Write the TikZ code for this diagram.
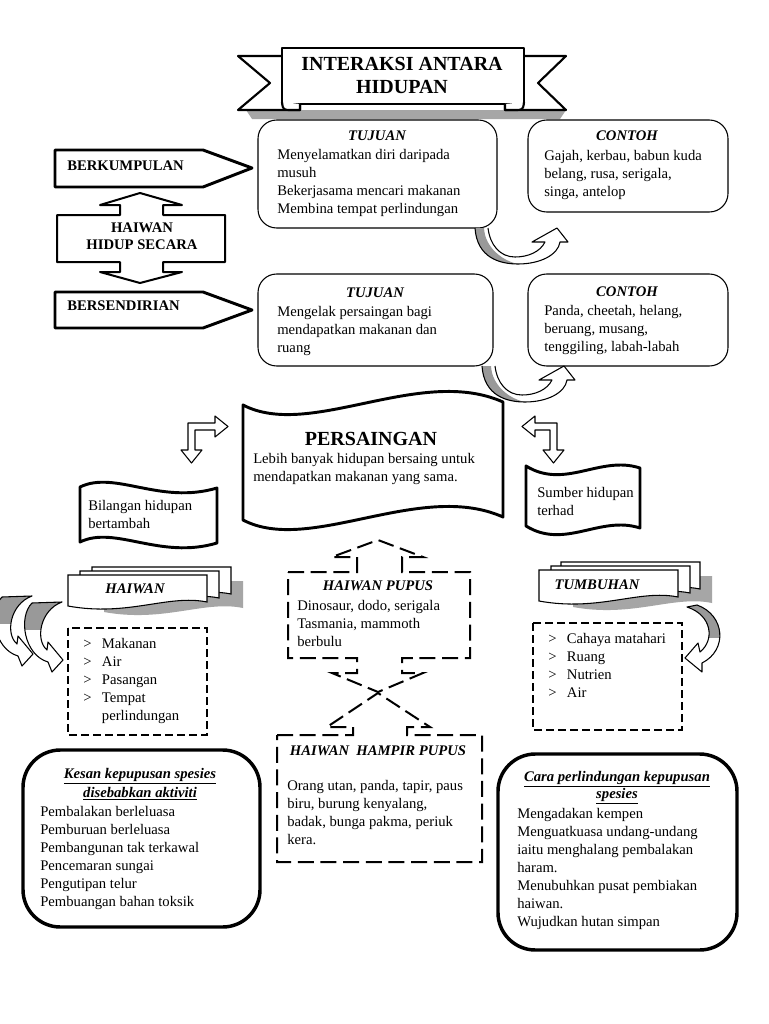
\documentclass[tikz,border=0pt]{standalone}
\usepackage{fontspec}
\setmainfont{Liberation Serif}
\begin{document}
\begin{tikzpicture}[x=0.75pt,y=-0.75pt,
  every node/.style={inner sep=0pt},
  body/.style={font=\fontsize{11}{13.5}\selectfont, align=left, anchor=north west, execute at begin node=\strut},
  hd/.style={font=\fontsize{11}{13.5}\selectfont\bfseries\itshape, anchor=base},
  bd/.style={font=\fontsize{11}{13.5}\selectfont\bfseries, anchor=base west},
  outl/.style={draw=black, line width=0.8pt, fill=white, line join=round},
  heavy/.style={draw=black, line width=2.2pt, fill=white, line join=round},
  dshS/.style={draw=black, line width=1.4pt, dash pattern=on 6pt off 3pt},
  dshL/.style={draw=black, line width=1.5pt, dash pattern=on 12pt off 5pt},
  bigbox/.style={draw=black, line width=2.6pt, fill=white, rounded corners=28},
  docu/.pic={\draw[line width=0.8pt, fill=white] (0,0) -- (139,0) -- (139,27) .. controls (100,19) and (60,42) .. (0,31) -- cycle;},
  docsh/.pic={\fill[black!35] (0,0) -- (139,0) -- (139,27) .. controls (100,19) and (60,42) .. (0,31) -- cycle;},
  uparr/.pic={
    \fill[white] (0,0) .. controls (2,30) and (25,36) .. (43,36) .. controls (65,36) and (83,27) .. (85,14) -- (93,14) -- (82,0) -- (57,14) -- (70,14) .. controls (65,24) and (53,29) .. (40,29) .. controls (25,29) and (15,17) .. (13,0) -- cycle;
    \fill[black!40] (0,0) .. controls (2,30) and (25,36) .. (43,36) .. controls (28,33) and (10,20) .. (9,0) -- cycle;
    \draw[line width=0.8pt, line join=round] (0,0) .. controls (2,30) and (25,36) .. (43,36) .. controls (65,36) and (83,27) .. (85,14) -- (93,14) -- (82,0) -- (57,14) -- (70,14) .. controls (65,24) and (53,29) .. (40,29) .. controls (25,29) and (15,17) .. (13,0);
  },
  rtarr/.pic={
    \fill[white] (0,0) -- (30,-1) .. controls (8,7) and (3,37) .. (15,47) -- (16,39) -- (31,57) -- (20,69) -- (16,59) .. controls (-8,52) and (-14,14) .. (0,0) -- cycle;
    \begin{scope}
      \clip (-30,-5) rectangle (40,26);
      \fill[black!40] (0,0) -- (30,-1) .. controls (8,7) and (3,37) .. (15,47) -- (16,39) -- (31,57) -- (20,69) -- (16,59) .. controls (-8,52) and (-14,14) .. (0,0) -- cycle;
    \end{scope}
    \draw[line width=0.8pt, line join=round] (0,0) -- (30,-1) .. controls (8,7) and (3,37) .. (15,47) -- (16,39) -- (31,57) -- (20,69) -- (16,59) .. controls (-8,52) and (-14,14) .. (0,0) -- cycle;
  },
  ltarr/.pic={
    \fill[white] (0,0) -- (10,-2) .. controls (38,8) and (41,43) .. (15,56) -- (15,65) -- (-2,51) -- (11,36) -- (13,45) .. controls (28,33) and (25,8) .. (0,0) -- cycle;
    \begin{scope}
      \clip (-10,-5) rectangle (50,30);
      \fill[black!40] (0,0) -- (10,-2) .. controls (38,8) and (41,43) .. (15,56) -- (15,65) -- (-2,51) -- (11,36) -- (13,45) .. controls (28,33) and (25,8) .. (0,0) -- cycle;
    \end{scope}
    \draw[line width=0.8pt, line join=round] (0,0) -- (10,-2) .. controls (38,8) and (41,43) .. (15,56) -- (15,65) -- (-2,51) -- (11,36) -- (13,45) .. controls (28,33) and (25,8) .. (0,0) -- cycle;
  }
]
\useasboundingbox (0,0) rectangle (768,1024);
\fill[white] (0,0) rectangle (768,1024);

% ---------- title ribbon ----------
\fill[black!35] (246,110) -- (566,110) -- (560,119) -- (252,119) -- cycle;
\draw[outl, line width=1.6pt] (300,56) -- (238,56) -- (270,83) -- (238,110) -- (300,110) -- cycle;
\draw[outl, line width=1.6pt] (505,56) -- (566,56) -- (538,83) -- (566,110) -- (505,110) -- cycle;
\draw[outl, line width=1.8pt] (282,48) rectangle (524,104);
\draw[outl, line width=1.6pt] (282,102) .. controls (283,110) .. (292,110) -- (300,110) -- (300,104);
\draw[outl, line width=1.6pt] (524,102) .. controls (523,110) .. (514,110) -- (505,110) -- (505,104);
\node[font=\fontsize{15}{17.25}\selectfont\bfseries, align=center, anchor=north, execute at begin node=\strut] (title) at (402,57) {INTERAKSI ANTARA\\HIDUPAN};

% ---------- left arrows ----------
\draw[heavy] (55,150) -- (203,150) -- (252,168) -- (203,187) -- (55,187) -- cycle;
\node[bd] (berk) at (67,170) {BERKUMPULAN};
\draw[heavy] (55,292) -- (203,292) -- (252,310) -- (203,328) -- (55,328) -- cycle;
\node[bd] (bers) at (67,310) {BERSENDIRIAN};
\draw[outl, line width=1.5pt] (57,215) -- (120,215) -- (120,205) -- (100,205) -- (140,193) -- (182,205) -- (163,205) -- (163,215) -- (225,215) -- (225,262) -- (163,262) -- (163,272) -- (182,272) -- (140,283) -- (100,272) -- (120,272) -- (120,262) -- (57,262) -- cycle;
\node[font=\fontsize{11}{12.75}\selectfont\bfseries, align=center, anchor=north, execute at begin node=\strut] (hidup) at (142,223) {HAIWAN\\HIDUP SECARA};

% ---------- tujuan / contoh ----------
\draw[outl, rounded corners=14] (258,120) rectangle (497,228);
\node[hd] (tuj1) at (377,140) {TUJUAN};
\node[body] (tuj1t) at (277,149.4) {Menyelamatkan diri daripada\\musuh\\Bekerjasama mencari makanan\\Membina tempat perlindungan};
\draw[outl, rounded corners=14] (528,120) rectangle (728,212);
\node[hd] (con1) at (627,140) {CONTOH};
\node[body] (con1t) at (544,150.4) {Gajah, kerbau, babun kuda\\belang, rusa, serigala,\\singa, antelop};
\draw[outl, rounded corners=14] (258,274) rectangle (493,366);
\node[hd] (tuj2) at (375,297) {TUJUAN};
\node[body] (tuj2t) at (277,306.4) {Mengelak persaingan bagi\\mendapatkan makanan dan\\ruang};
\draw[outl, rounded corners=14] (528,274) rectangle (728,366);
\node[hd] (con2) at (627,296) {CONTOH};
\node[body] (con2t) at (544,305.4) {Panda, cheetah, helang,\\beruang, musang,\\tenggiling, labah-labah};
\pic at (475,228) {uparr};
\pic at (482,366) {uparr};

% ---------- persaingan ----------
\draw[heavy] (243,405) .. controls (310,440) and (420,365) .. (503,402) -- (503,517) .. controls (420,480) and (310,555) .. (243,520) -- cycle;
\node[font=\fontsize{15}{17}\selectfont\bfseries, anchor=base] (pers) at (371,445) {PERSAINGAN};
\node[body] (perst) at (253,453.4) {Lebih banyak hidupan bersaing untuk\\mendapatkan makanan yang sama.};
\draw[outl] (188,423) -- (215,423) -- (215,416) -- (228,426.5) -- (215,437) -- (215,430) -- (195,430) -- (195,450) -- (202,450) -- (191.5,463) -- (181,450) -- (188,450) -- cycle;
\draw[outl] (557,423) -- (535,423) -- (535,416) -- (522,426.5) -- (535,437) -- (535,430) -- (550,430) -- (550,450) -- (543,450) -- (553.5,463) -- (564,450) -- (557,450) -- cycle;
\draw[heavy] (80,487) .. controls (115,470) and (160,505) .. (217,488) -- (217,543) .. controls (160,560) and (115,525) .. (80,542) -- cycle;
\node[body] (bil) at (88,500.4) {Bilangan hidupan\\bertambah};
\draw[heavy] (526,466) .. controls (565,490) and (600,455) .. (640,468) -- (640,528) .. controls (600,515) and (565,550) .. (526,526) -- cycle;
\node[body] (sum) at (537,487.4) {Sumber hidupan\\terhad};

% ---------- haiwan tab ----------
\pic at (104,581) {docsh};
\pic at (92,567) {docu};
\pic at (80,571) {docu};
\pic at (68,575) {docu};
\node[hd] (haiwan) at (135,593) {HAIWAN};
\pic at (2,597) {rtarr};
\pic at (32,603) {rtarr};
\draw[dshS] (68,628) rectangle (207,735);
\node[body] (hlist) at (83,638.4) {\makebox[14pt][l]{>}Makanan\\\makebox[14pt][l]{>}Air\\\makebox[14pt][l]{>}Pasangan\\\makebox[14pt][l]{>}Tempat\\\hspace*{14pt}perlindungan};

% ---------- tumbuhan tab ----------
\pic at (573,576) {docsh};
\pic at (561,562) {docu};
\pic at (551,566) {docu};
\pic at (539,570) {docu};
\node[hd] (tumb) at (597,589) {TUMBUHAN};
\pic at (687,607) {ltarr};
\draw[dshS] (533,623) rectangle (682,730);
\node[body] (tlist) at (548,633.4) {\makebox[14pt][l]{>}Cahaya matahari\\\makebox[14pt][l]{>}Ruang\\\makebox[14pt][l]{>}Nutrien\\\makebox[14pt][l]{>}Air};

% ---------- haiwan pupus ----------
\draw[dshL] (288,572) -- (357,572) -- (357,557) -- (332,557) -- (378,540) -- (423,557) -- (402,557) -- (402,572) -- (470,572) -- (470,658) -- (402,658) -- (402,673) -- (423,673) -- (378,692) -- (332,673) -- (357,673) -- (357,658) -- (288,658) -- cycle;
\node[hd] (pupus) at (378,590) {HAIWAN PUPUS};
\node[body, font=\fontsize{11}{13.2}\selectfont] (pupust) at (297,600.4) {Dinosaur, dodo, serigala\\Tasmania, mammoth\\berbulu};
\draw[dshL] (277,735) -- (353,735) -- (353,727) -- (327,727) -- (378,693) -- (430,727) -- (407,727) -- (407,735) -- (482,735) -- (482,862) -- (277,862) -- cycle;
\node[hd] (hampir) at (378,755) {HAIWAN\ \ HAMPIR PUPUS};
\node[body] (hampirt) at (287,780.4) {Orang utan, panda, tapir, paus\\biru, burung kenyalang,\\badak, bunga pakma, periuk\\kera.};

% ---------- bottom boxes ----------
\draw[bigbox] (23,750) rectangle (260,927);
\node[font=\fontsize{11}{14.25}\selectfont\bfseries\itshape, align=center, anchor=north, execute at begin node=\strut] (kesanh) at (140,768) {\underline{Kesan kepupusan spesies}\\\underline{disebabkan aktiviti}};
\node[body] (kesant) at (40,806.4) {Pembalakan berleluasa\\Pemburuan berleluasa\\Pembangunan tak terkawal\\Pencemaran sungai\\Pengutipan telur\\Pembuangan bahan toksik};
\draw[bigbox] (498,754) rectangle (737,950);
\node[font=\fontsize{11}{12.75}\selectfont\bfseries\itshape, align=center, anchor=north, execute at begin node=\strut] (carah) at (617,771) {\underline{Cara perlindungan kepupusan}\\\underline{spesies}};
\node[body] (carat) at (517,808.4) {Mengadakan kempen\\Menguatkuasa undang-undang\\iaitu menghalang pembalakan\\haram.\\Menubuhkan pusat pembiakan\\haiwan.\\Wujudkan hutan simpan};
\end{tikzpicture}
\end{document}
